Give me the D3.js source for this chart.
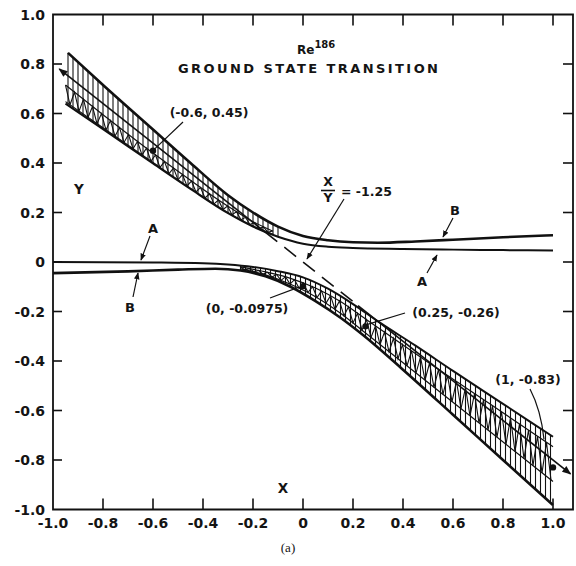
<!DOCTYPE html>
<html><head><meta charset="utf-8">
<script src="https://cdn.jsdelivr.net/npm/d3@7"></script>
<style>
html,body{margin:0;padding:0;background:#fff;}
svg{display:block;}
text{font-family:"DejaVu Sans",sans-serif;font-weight:bold;fill:#141414;}
</style></head><body>
<svg id="chart" width="576" height="566"></svg>
<script>
// ---- axis ticks ----
const xTicks = [-1.0,-0.8,-0.6,-0.4,-0.2,0,0.2,0.4,0.6,0.8,1.0];
const xTickLabels = ["-1.0","-0.8","-0.6","-0.4","-0.2","0","0.2","0.4","0.6","0.8","1.0"];
const yTicks = [1.0,0.8,0.6,0.4,0.2,0,-0.2,-0.4,-0.6,-0.8,-1.0];
const yTickLabels = ["1.0","0.8","0.6","0.4","0.2","0","-0.2","-0.4","-0.6","-0.8","-1.0"];

// ---- upper band: edges flatten into line B (top) and line A (bottom) ----
const upperTop = [[-0.94,0.845],[-0.8,0.715],[-0.6,0.535],[-0.45,0.4],[-0.3,0.27],[-0.2,0.2],[-0.1,0.143],[0,0.105],[0.1,0.088],[0.2,0.08],[0.3,0.078],[0.45,0.083],[0.6,0.09],[0.8,0.1],[1.0,0.108]];
const upperBottom = [[-0.95,0.64],[-0.8,0.537],[-0.6,0.398],[-0.45,0.295],[-0.3,0.197],[-0.2,0.143],[-0.1,0.102],[0,0.074],[0.1,0.062],[0.2,0.057],[0.4,0.053],[0.6,0.05],[0.8,0.048],[1.0,0.046]];
const upperInnerTop = [[-0.95,0.715],[-0.8,0.595],[-0.6,0.44],[-0.45,0.33],[-0.3,0.225],[-0.2,0.163],[-0.12,0.124]];
const upperInnerBottom = [[-0.95,0.648],[-0.8,0.542],[-0.6,0.402],[-0.45,0.298],[-0.3,0.2],[-0.2,0.146],[-0.12,0.112]];

// ---- lower band: edges start as line A (top) and line B (bottom) ----
const lowerTop = [[-1.0,0.0],[-0.6,-0.002],[-0.4,-0.005],[-0.3,-0.01],[-0.2,-0.02],[-0.1,-0.037],[0,-0.062],[0.1,-0.108],[0.2,-0.17],[0.3,-0.24],[0.45,-0.338],[0.6,-0.44],[0.8,-0.573],[1.0,-0.706]];
const lowerBottom = [[-1.0,-0.045],[-0.7,-0.038],[-0.5,-0.031],[-0.35,-0.027],[-0.25,-0.034],[-0.15,-0.058],[-0.05,-0.1],[0.05,-0.158],[0.15,-0.225],[0.24,-0.295],[0.4,-0.435],[0.6,-0.617],[0.8,-0.8],[1.0,-0.982]];
const lowerInnerTop = [[-0.25,-0.02],[-0.15,-0.04],[-0.05,-0.066],[0.05,-0.105],[0.15,-0.16],[0.25,-0.23],[0.5,-0.405],[0.75,-0.575],[1.0,-0.746]];
const lowerInnerBottom = [[-0.25,-0.028],[-0.15,-0.052],[-0.05,-0.09],[0.05,-0.14],[0.15,-0.207],[0.25,-0.287],[0.5,-0.487],[0.75,-0.687],[1.0,-0.887]];

// ---- X/Y = -1.25 line: solid through the bands, dashed across the gap ----
const ratioLeft = [[-0.975,0.78],[-0.15,0.12]];
const ratioGap = [[-0.15,0.12],[0.22,-0.176]];
const ratioRight = [[0.22,-0.176],[1.07,-0.856]];

// ---- marked points ----
const markX = [-0.6, 0, 0.25, 1];
const markY = [0.45, -0.0975, -0.26, -0.83];
const markLabels = ["(-0.6, 0.45)","(0, -0.0975)","(0.25, -0.26)","(1, -0.83)"];

const svg = d3.select("#chart");
const x = d3.scaleLinear().domain([-1,1]).range([53,553]);
const y = d3.scaleLinear().domain([-1,1]).range([509.5,14.5]);
const right = x(1.08);

const defs = svg.append("defs");
defs.append("marker").attr("id","ah").attr("viewBox","0 0 10 10").attr("refX",9).attr("refY",5)
  .attr("markerWidth",7).attr("markerHeight",7).attr("orient","auto-start-reverse").attr("markerUnits","userSpaceOnUse")
  .append("path").attr("d","M0,1 L10,5 L0,9 Z").attr("fill","#111");
defs.append("marker").attr("id","ahBig").attr("viewBox","0 0 10 10").attr("refX",9).attr("refY",5)
  .attr("markerWidth",10).attr("markerHeight",9).attr("orient","auto-start-reverse").attr("markerUnits","userSpaceOnUse")
  .append("path").attr("d","M0,1 L10,5 L0,9 Z").attr("fill","#111");

// frame
svg.append("path")
  .attr("d",`M${x(-1)},${y(1)} H${right} V${y(-1)} H${x(-1)} Z`)
  .attr("fill","none").attr("stroke","#111").attr("stroke-width",1.8);

const tickG = svg.append("g").attr("stroke","#111").attr("stroke-width",1.6);
xTicks.filter(v=>v>-1).forEach(v=>{
  tickG.append("line").attr("x1",x(v)).attr("x2",x(v)).attr("y1",y(1)).attr("y2",y(1)+11);
  tickG.append("line").attr("x1",x(v)).attr("x2",x(v)).attr("y1",y(-1)).attr("y2",y(-1)-11);
});
yTicks.filter(v=>v>-1&&v<1).forEach(v=>{
  tickG.append("line").attr("x1",x(-1)).attr("x2",x(-1)+9).attr("y1",y(v)).attr("y2",y(v));
  tickG.append("line").attr("x1",right).attr("x2",right-10).attr("y1",y(v)).attr("y2",y(v));
});

svg.append("g").selectAll("text").data(xTicks).join("text")
  .attr("x",d=>x(d)).attr("y",528).attr("text-anchor","middle").attr("font-size",14)
  .text((d,i)=>xTickLabels[i]);
svg.append("g").selectAll("text").data(yTicks).join("text")
  .attr("x",45).attr("y",d=>y(d)+5).attr("text-anchor","end").attr("font-size",14)
  .text((d,i)=>yTickLabels[i]);

// curves
const line = d3.line().x(d=>x(d[0])).y(d=>y(d[1])).curve(d3.curveMonotoneX);
const curveG = svg.append("g").attr("fill","none").attr("stroke","#111");
function drawCurve(data, w){
  return curveG.append("path").attr("d",line(data)).attr("stroke-width",w).node();
}
function sampler(node){
  const L = node.getTotalLength(), pts=[];
  for(let l=0;l<=L;l+=0.5){ const p=node.getPointAtLength(l); pts.push([p.x,p.y]); }
  return px=>{
    for(let i=1;i<pts.length;i++){
      const a=pts[i-1], b=pts[i];
      if(a[0]<=px && b[0]>=px){ const t=(b[0]-a[0])?(px-a[0])/(b[0]-a[0]):0; return a[1]+t*(b[1]-a[1]); }
    }
    return null;
  };
}
const hatchG = svg.append("g").attr("fill","none").attr("stroke","#111").attr("stroke-width",1.1);
function verticalHatch(topF, botF, x0, x1, step){
  for(let px=x(x0); px<=x(x1); px+=step){
    const a=topF(px), b=botF(px);
    if(a!==null && b!==null && b-a>0.8) hatchG.append("line").attr("x1",px).attr("x2",px).attr("y1",a).attr("y2",b);
  }
}
function zigzag(topF, botF, x0, x1, step){
  const pts=[]; let i=0;
  for(let px=x(x0); px<=x(x1); px+=step, i++){
    const a=topF(px), b=botF(px);
    if(a===null||b===null) continue;
    pts.push([px, i%2 ? b : a]);
  }
  hatchG.append("path").attr("d",d3.line()(pts));
}

const uT = drawCurve(upperTop, 2.6), uB = drawCurve(upperBottom, 2);
const uIT = drawCurve(upperInnerTop, 1.2), uIB = drawCurve(upperInnerBottom, 1.2);
const lT = drawCurve(lowerTop, 2), lB = drawCurve(lowerBottom, 2.6);
const lIT = drawCurve(lowerInnerTop, 1.2), lIB = drawCurve(lowerInnerBottom, 1.2);

const fuT=sampler(uT), fuB=sampler(uB), fuIT=sampler(uIT), fuIB=sampler(uIB);
const flT=sampler(lT), flB=sampler(lB), flIT=sampler(lIT), flIB=sampler(lIB);

verticalHatch(fuT, fuB, -0.94, -0.1, 5);
zigzag(fuIT, fuIB, -0.95, -0.12, 4.5);
verticalHatch(flT, flB, -0.25, 1.0, 5);
zigzag(flIT, flIB, -0.25, 1.0, 4.5);

// ratio line
const straight = d3.line().x(d=>x(d[0])).y(d=>y(d[1]));
svg.append("path").attr("d",straight(ratioLeft)).attr("stroke","#111").attr("stroke-width",1.6).attr("fill","none").attr("marker-start","url(#ahBig)");
svg.append("path").attr("d",straight(ratioGap)).attr("stroke","#111").attr("stroke-width",1.6).attr("fill","none").attr("stroke-dasharray","15,9");
svg.append("path").attr("d",straight(ratioRight)).attr("stroke","#111").attr("stroke-width",1.6).attr("fill","none").attr("marker-end","url(#ahBig)");

// marked points
svg.append("g").selectAll("circle").data(markX).join("circle")
  .attr("cx",d=>x(d)).attr("cy",(d,i)=>y(markY[i])).attr("r",3.2).attr("fill","#111");

// annotations
const ann = svg.append("g").attr("stroke","#111").attr("stroke-width",1.2).attr("fill","none");
const labelPos = [[209,117,"middle"],[247,313,"middle"],[456,317,"middle"],[528,384,"middle"]];
markLabels.forEach((t,i)=>{
  svg.append("text").attr("x",labelPos[i][0]).attr("y",labelPos[i][1]).attr("text-anchor",labelPos[i][2]).attr("font-size",12.5).text(t);
});
ann.append("path").attr("d",`M183,122 L${x(markX[0])+2},${y(markY[0])-2}`);
ann.append("path").attr("d",`M270,298 L${x(markX[1])-4},${y(markY[1])+1}`);
ann.append("path").attr("d",`M405,313 L${x(markX[2])+2},${y(markY[2])-2}`);
ann.append("path").attr("d",`M530,389 Q541,410 ${x(markX[3])-9},${y(markY[3])-28}`);

// A / B pointers
ann.append("path").attr("d","M453,218 L443,237").attr("marker-end","url(#ah)");
ann.append("path").attr("d","M427,273 L437,255").attr("marker-end","url(#ah)");
ann.append("path").attr("d","M150,236 L141,260").attr("marker-end","url(#ah)");
ann.append("path").attr("d","M133,297 L138,273").attr("marker-end","url(#ah)");
[["B",455,215],["A",422,286],["A",153,233],["B",130,312]].forEach(d=>{
  svg.append("text").attr("x",d[1]).attr("y",d[2]).attr("text-anchor","middle").attr("font-size",13).text(d[0]);
});

// X/Y = -1.25 label
svg.append("text").attr("x",328).attr("y",186).attr("text-anchor","middle").attr("font-size",12.5).text("X");
svg.append("line").attr("x1",321).attr("x2",335).attr("y1",190.5).attr("y2",190.5).attr("stroke","#111").attr("stroke-width",1.6);
svg.append("text").attr("x",328).attr("y",202).attr("text-anchor","middle").attr("font-size",12.5).text("Y");
svg.append("text").attr("x",341).attr("y",196).attr("font-size",12.5).text("= -1.25");
ann.append("path").attr("d","M344,199 L307,259").attr("marker-end","url(#ah)");

// axis letters
svg.append("text").attr("x",79).attr("y",194).attr("text-anchor","middle").attr("font-size",13.5).text("Y");
svg.append("text").attr("x",283).attr("y",493).attr("text-anchor","middle").attr("font-size",13.5).text("X");

// title
const re = svg.append("text").attr("x",297).attr("y",54).attr("font-size",12);
re.append("tspan").text("Re");
re.append("tspan").attr("dy",-6).attr("font-size",10).text("186");
svg.append("text").attr("x",308).attr("y",73).attr("text-anchor","middle").attr("font-size",13)
  .attr("textLength",260).attr("lengthAdjust","spacing").text("GROUND  STATE  TRANSITION");

// panel caption
svg.append("text").attr("x",288).attr("y",552).attr("text-anchor","middle").attr("font-size",13)
  .style("font-family","'Liberation Serif','DejaVu Serif',serif").style("font-weight","normal").text("(a)");
</script>
</body></html>
